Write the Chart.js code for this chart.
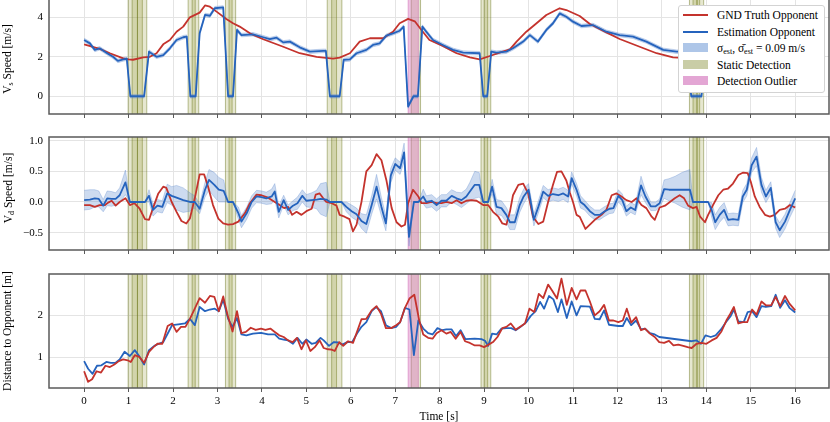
<!DOCTYPE html>
<html>
<head>
<meta charset="utf-8">
<script src="https://cdn.jsdelivr.net/npm/chart.js@4.4.0/dist/chart.umd.min.js"></script>
<style>
  body { margin: 0; width: 830px; height: 422px; overflow: hidden; position: relative; background: #fff;
         font-family: "Liberation Serif", "Times New Roman", serif; color: #000; }
  canvas { position: absolute; left: 0; }
  .ylab { position: absolute; transform: translate(-50%, -50%) rotate(-90deg); white-space: nowrap; font-size: 11.5px; }
  sub { font-size: 0.7em; vertical-align: -0.3em; line-height: 0; }
  #legend { position: absolute; left: 678px; top: 5px; width: 145px; height: 86px; background: #fff;
            border: 1px solid #d3d3d3; border-radius: 3px; }
  .row { position: absolute; left: 0; height: 16px; line-height: 16px; font-size: 11.5px; white-space: nowrap; }
  .row .h { position: absolute; left: 4px; width: 25px; }
  .row .t { position: absolute; left: 38px; top: 0; }
</style>
</head>
<body>
<canvas id="vsChart" width="830" height="124" style="top:-2px"></canvas>
<canvas id="vdChart" width="830" height="128" style="top:130px"></canvas>
<canvas id="distChart" width="830" height="160" style="top:268px"></canvas>

<div class="ylab" style="left:6.5px; top:59px">V<sub>s</sub> Speed [m/s]</div>
<div class="ylab" style="left:8px; top:188px">V<sub>d</sub> Speed [m/s]</div>
<div class="ylab" style="left:7px; top:331px">Distance to Opponent [m]</div>

<div id="legend">
  <div class="row" style="top:1px"><span class="h" style="top:7px;height:2px;background:#c4332d"></span><span class="t">GND Truth Opponent</span></div>
  <div class="row" style="top:18px"><span class="h" style="top:7px;height:2px;background:#2563bd"></span><span class="t">Estimation Opponent</span></div>
  <div class="row" style="top:34px"><span class="h" style="top:3px;height:9px;background:#aec6e8"></span><span class="t">σ<sub>est</sub>, σ̄<sub>est</sub> = 0.09 m/s</span></div>
  <div class="row" style="top:51px"><span class="h" style="top:3px;height:9px;background:#c9cda6"></span><span class="t">Static Detection</span></div>
  <div class="row" style="top:67px"><span class="h" style="top:3px;height:9px;background:#e3a6d4"></span><span class="t">Detection Outlier</span></div>
</div>

<script>
// time axis
const xTicks = [0, 1, 2, 3, 4, 5, 6, 7, 8, 9, 10, 11, 12, 13, 14, 15, 16];
const vsTicks = [0, 2, 4];
const vdTicks = [-0.5, 0, 0.5, 1.0];
const distTicks = [1, 2];

// detection windows [start, end] in s
const staticSpans = [[0.99, 1.2], [1.08, 1.31], [1.2, 1.41], [2.34, 2.5], [2.43, 2.58], [3.18, 3.33], [3.26, 3.41],
  [5.47, 5.68], [5.57, 5.8], [7.36, 7.57], [8.93, 9.08], [9.0, 9.15], [13.62, 13.79], [13.7, 13.85], [13.79, 13.94]];
const outlierSpans = [[7.29, 7.52]];

// V_s speed [t, m/s]
const vsGnd = [[0,2.63],[0.35,2.4],[0.58,2.18],[0.88,1.92],[1.0,1.87],[1.1,1.85],[1.33,1.97],[1.48,2.0],[1.63,2.18],
  [1.78,2.63],[1.93,2.85],[2.08,3.27],[2.23,3.53],[2.38,4.0],[2.6,4.24],[2.72,4.6],[2.83,4.54],[2.98,4.29],[3.2,3.92],
  [3.35,3.7],[3.5,3.53],[3.73,3.19],[4.03,2.89],[4.48,2.51],[4.85,2.18],[5.23,2.0],[5.6,1.91],[5.75,1.96],[5.98,2.18],
  [6.2,2.77],[6.43,2.94],[6.73,2.94],[6.95,3.27],[7.1,3.7],[7.29,3.92],[7.44,3.8],[7.59,3.36],[7.77,2.85],[8.07,2.55],
  [8.38,2.18],[8.68,1.97],[8.9,1.87],[9.13,2.04],[9.35,2.21],[9.58,2.38],[9.73,2.77],[9.95,3.27],[10.18,3.7],[10.4,4.12],
  [10.7,4.46],[10.85,4.37],[11.15,4.07],[11.38,3.66],[11.75,3.24],[12.05,2.9],[12.5,2.51],[12.88,2.18],[13.25,1.97],
  [13.48,1.94],[13.8,1.95],[14.1,2.1],[14.5,2.6],[15.0,3.1],[15.5,3.2],[16.0,2.9]];
const vsEst = [[0,2.85],[0.13,2.68],[0.24,2.35],[0.35,2.43],[0.5,2.21],[0.65,2.0],[0.76,1.79],[0.88,1.87],[0.96,1.9],
  [1.04,0],[1.35,0],[1.46,2.26],[1.63,2.0],[1.78,2.09],[1.93,2.43],[2.08,2.85],[2.23,2.99],[2.31,3.02],[2.39,0],[2.51,0],
  [2.6,3.19],[2.72,4.12],[2.83,4.08],[2.94,4.46],[3.13,4.5],[3.24,0],[3.35,0],[3.44,3.36],[3.54,3.1],[3.8,3.14],[4.03,2.99],
  [4.18,2.89],[4.33,2.97],[4.48,2.73],[4.63,2.77],[4.85,2.48],[5.08,2.26],[5.38,2.3],[5.44,2.3],[5.53,0],[5.75,0],[5.84,1.84],
  [5.98,1.87],[6.13,2.18],[6.35,2.35],[6.5,2.6],[6.65,2.68],[6.8,3.07],[6.95,3.19],[7.1,3.32],[7.19,3.53],[7.29,-0.52],
  [7.41,0],[7.51,0],[7.61,3.53],[7.7,3.27],[7.85,2.85],[8.07,2.6],[8.3,2.35],[8.53,2.21],[8.9,2.18],[8.98,0],[9.07,0],
  [9.16,2.26],[9.28,2.21],[9.5,2.26],[9.65,2.43],[9.88,2.77],[10.03,3.1],[10.21,2.77],[10.4,3.36],[10.55,3.7],[10.7,4.2],
  [10.85,4.03],[11.0,3.78],[11.19,3.56],[11.45,3.61],[11.75,3.27],[12.05,3.1],[12.35,3.02],[12.65,2.77],[13.03,2.35],
  [13.33,2.26],[13.57,2.26],[13.66,0],[13.89,0],[13.98,2.0],[14.3,2.3],[14.7,2.8],[15.2,3.2],[15.6,3.1],[16.0,2.8]];
const vsSigma = 0.09;

// V_d speed [t, m/s]; estimate rows are [t, m/s, sigma]
const vdGnd = [[0,-0.05],[0.13,-0.05],[0.24,-0.08],[0.35,-0.05],[0.47,-0.05],[0.54,-0.01],[0.62,0.02],[0.71,-0.06],
  [0.8,0.0],[0.93,0.06],[1.03,-0.05],[1.13,-0.02],[1.25,-0.11],[1.37,-0.28],[1.46,-0.29],[1.55,-0.1],[1.67,0.14],
  [1.78,0.25],[1.85,0.23],[1.97,0.0],[2.08,-0.16],[2.19,-0.31],[2.3,-0.35],[2.38,-0.27],[2.49,0.06],[2.6,0.45],[2.7,0.45],
  [2.79,0.25],[2.9,-0.05],[3.02,-0.27],[3.13,-0.35],[3.24,-0.37],[3.35,-0.36],[3.47,-0.32],[3.62,-0.18],[3.73,-0.02],
  [3.88,0.12],[3.99,0.11],[4.14,0.07],[4.29,0.0],[4.4,-0.05],[4.5,-0.1],[4.59,-0.08],[4.68,-0.21],[4.78,-0.16],[4.89,-0.21],
  [5.0,-0.15],[5.12,-0.11],[5.21,0.12],[5.3,0.14],[5.38,0.06],[5.45,0.0],[5.57,-0.02],[5.68,-0.06],[5.75,-0.21],[5.86,-0.24],
  [5.97,-0.28],[6.05,-0.48],[6.13,-0.37],[6.24,0.0],[6.35,0.5],[6.47,0.6],[6.58,0.78],[6.69,0.68],[6.8,0.36],[6.92,-0.1],
  [7.03,-0.33],[7.14,-0.4],[7.22,-0.37],[7.29,-0.02],[7.4,0.2],[7.52,0.09],[7.59,-0.02],[7.7,-0.02],[7.82,0.0],[7.93,-0.02],
  [8.04,-0.02],[8.15,0.0],[8.27,-0.02],[8.38,0.03],[8.49,-0.02],[8.6,0.02],[8.71,0.03],[8.83,0.02],[8.98,-0.05],[9.09,-0.05],
  [9.2,-0.16],[9.32,-0.24],[9.41,-0.35],[9.5,-0.37],[9.58,-0.16],[9.65,0.11],[9.77,0.28],[9.88,0.3],[9.99,0.14],[10.1,-0.24],
  [10.22,-0.36],[10.33,-0.32],[10.44,0.0],[10.55,0.28],[10.64,0.49],[10.74,0.5],[10.85,0.35],[10.93,0.15],[11.0,0.0],
  [11.08,-0.21],[11.15,-0.24],[11.28,-0.44],[11.38,-0.37],[11.49,-0.29],[11.64,-0.21],[11.75,-0.13],[11.87,0.11],[11.98,0.14],
  [12.09,0.09],[12.2,0.03],[12.32,0.0],[12.43,0.06],[12.54,-0.05],[12.65,-0.1],[12.77,-0.24],[12.84,-0.29],[12.95,-0.09],
  [13.07,-0.06],[13.18,0.0],[13.29,0.06],[13.4,0.11],[13.5,0.06],[13.59,-0.06],[13.7,-0.1],[13.78,-0.08],[13.86,-0.24],
  [13.97,-0.33],[14.04,-0.21],[14.15,-0.05],[14.27,0.11],[14.38,0.2],[14.49,0.22],[14.6,0.3],[14.72,0.44],[14.83,0.48],
  [14.93,0.47],[15.0,0.33],[15.09,0.09],[15.2,-0.08],[15.32,-0.21],[15.43,-0.24],[15.54,-0.21],[15.65,-0.13],[15.77,-0.11],
  [15.88,-0.05],[16.0,-0.09]];
const vdEst = [[0,0.03,0.16],[0.13,0.04,0.16],[0.24,0.06,0.14],[0.33,0.05,0.13],[0.43,-0.06,0.1],[0.52,0.06,0.12],
  [0.62,0.05,0.12],[0.71,0.05,0.1],[0.8,0.11,0.12],[0.93,0.32,0.2],[1.03,0,0],[1.37,0,0],[1.46,0.1,0.1],[1.55,-0.13,0.1],
  [1.65,-0.06,0.1],[1.76,-0.08,0.1],[1.87,0.14,0.15],[1.97,0.1,0.15],[2.08,0.07,0.2],[2.23,0.03,0.2],[2.38,0.0,0.15],
  [2.49,0.0,0.1],[2.6,-0.11,0.08],[2.72,0.2,0.12],[2.81,0.36,0.17],[2.93,0.28,0.2],[3.03,0.2,0.2],[3.14,0.18,0.18],[3.24,0,0],
  [3.35,0,0],[3.47,-0.18,0.1],[3.54,-0.32,0.1],[3.66,-0.18,0.1],[3.77,0.0,0.1],[3.88,0.09,0.1],[3.99,0.08,0.1],[4.1,0.06,0.1],
  [4.22,0.09,0.12],[4.29,0.17,0.13],[4.38,-0.16,0.1],[4.49,0.03,0.08],[4.59,-0.13,0.08],[4.7,-0.06,0.08],[4.8,-0.02,0.1],
  [4.91,0.1,0.1],[5.0,0.02,0.1],[5.12,0.03,0.12],[5.23,0.04,0.15],[5.32,0.05,0.25],[5.45,0.04,0.28],[5.53,0,0],[5.79,0,0],
  [5.9,-0.08,0.08],[6.02,-0.15,0.1],[6.13,-0.2,0.1],[6.24,-0.31,0.12],[6.35,-0.36,0.15],[6.47,-0.05,0.15],[6.58,0.25,0.2],
  [6.69,-0.08,0.15],[6.79,-0.35,0.12],[6.9,0.43,0.12],[7.0,0.62,0.1],[7.11,0.55,0.1],[7.2,0.81,0.15],[7.31,-0.57,0.15],
  [7.42,0,0],[7.52,0,0],[7.63,0.09,0.12],[7.7,0.0,0.1],[7.82,0.02,0.1],[7.93,-0.05,0.1],[8.04,0.02,0.1],[8.15,0.02,0.1],
  [8.27,0.1,0.1],[8.38,0.06,0.1],[8.49,0.03,0.12],[8.6,0.09,0.12],[8.68,0.17,0.15],[8.79,0.28,0.22],[8.89,0.28,0.2],
  [8.98,0,0],[9.09,0,0],[9.18,0.25,0.12],[9.28,-0.08,0.12],[9.39,-0.1,0.12],[9.5,-0.21,0.12],[9.58,-0.33,0.12],
  [9.69,-0.33,0.12],[9.8,-0.05,0.12],[9.89,0.09,0.12],[10.0,0.2,0.1],[10.12,-0.29,0.1],[10.22,-0.08,0.1],[10.33,0.17,0.1],
  [10.44,0.1,0.1],[10.55,0.13,0.1],[10.67,0.11,0.1],[10.78,0.14,0.1],[10.89,0.09,0.1],[10.97,0.39,0.1],[11.08,0.2,0.1],
  [11.17,0.0,0.1],[11.26,-0.05,0.08],[11.38,-0.15,0.08],[11.49,-0.21,0.08],[11.6,-0.21,0.08],[11.7,-0.16,0.08],
  [11.82,-0.11,0.08],[11.91,-0.1,0.08],[12.02,0.1,0.1],[12.11,0.03,0.1],[12.2,-0.15,0.08],[12.3,-0.09,0.08],[12.4,-0.13,0.08],
  [12.53,0.27,0.15],[12.63,0.09,0.1],[12.75,-0.07,0.07],[12.86,-0.07,0.07],[12.95,-0.02,0.07],[13.05,0.21,0.15],
  [13.16,0.2,0.18],[13.3,0.2,0.22],[13.45,0.2,0.28],[13.63,0.2,0.33],[13.7,0,0],[14.04,0,0],[14.12,-0.13,0.12],
  [14.2,-0.33,0.12],[14.3,-0.21,0.12],[14.4,-0.13,0.12],[14.49,-0.29,0.1],[14.6,-0.28,0.1],[14.72,-0.29,0.1],[14.82,0.09,0.1],
  [14.91,0.2,0.1],[15.02,0.6,0.12],[15.13,0.74,0.15],[15.24,0.28,0.12],[15.34,0.09,0.1],[15.45,0.23,0.1],[15.56,-0.33,0.1],
  [15.65,-0.46,0.12],[15.77,-0.32,0.12],[15.88,-0.13,0.12],[16.0,0.06,0.13]];

// distance to opponent [t, m]
const distGnd = [[0,0.67],[0.09,0.42],[0.18,0.48],[0.28,0.67],[0.38,0.64],[0.48,0.8],[0.58,0.77],[0.68,0.83],[0.78,0.91],
  [0.88,0.95],[0.98,0.93],[1.05,0.89],[1.14,1.05],[1.24,1.01],[1.35,0.87],[1.46,1.13],[1.56,1.24],[1.65,1.32],[1.76,1.32],
  [1.88,1.74],[1.98,1.8],[2.08,1.6],[2.18,1.72],[2.28,1.72],[2.38,1.91],[2.49,2.15],[2.6,2.4],[2.72,2.29],[2.83,2.45],
  [2.93,2.43],[3.03,2.09],[3.13,2.44],[3.23,1.99],[3.34,1.61],[3.44,2.09],[3.54,1.57],[3.64,1.6],[3.75,1.7],[3.86,1.65],
  [3.98,1.68],[4.08,1.65],[4.19,1.68],[4.29,1.6],[4.39,1.52],[4.49,1.48],[4.59,1.4],[4.69,1.36],[4.79,1.46],[4.89,1.19],
  [4.99,1.4],[5.09,1.15],[5.19,1.24],[5.3,1.4],[5.39,1.22],[5.49,1.19],[5.57,1.18],[5.64,1.15],[5.74,1.36],[5.83,1.27],
  [5.94,1.38],[6.05,1.34],[6.14,1.6],[6.24,1.9],[6.35,1.91],[6.47,2.11],[6.58,2.21],[6.68,2.03],[6.79,1.69],[6.91,1.69],
  [7.02,1.76],[7.11,1.83],[7.22,2.17],[7.32,2.39],[7.43,2.48],[7.54,1.87],[7.63,1.54],[7.74,1.46],[7.84,1.44],[7.93,1.57],
  [8.04,1.64],[8.15,1.56],[8.25,1.6],[8.36,1.44],[8.47,1.6],[8.57,1.38],[8.68,1.34],[8.79,1.28],[8.9,1.28],[9.0,1.24],
  [9.1,1.3],[9.2,1.36],[9.3,1.48],[9.41,1.69],[9.5,1.72],[9.6,1.8],[9.71,1.65],[9.82,1.73],[9.92,1.8],[10.02,2.15],
  [10.13,2.07],[10.23,2.5],[10.33,2.4],[10.44,2.72],[10.54,2.56],[10.64,2.39],[10.74,2.86],[10.86,2.24],[10.97,2.64],
  [11.08,2.37],[11.17,2.58],[11.28,2.58],[11.38,2.32],[11.49,1.99],[11.6,2.09],[11.7,2.24],[11.81,1.87],[11.91,1.87],
  [12.02,1.83],[12.12,1.87],[12.21,2.15],[12.31,1.82],[12.42,1.95],[12.53,1.64],[12.62,1.68],[12.73,1.56],[12.84,1.48],
  [12.94,1.36],[13.05,1.34],[13.16,1.39],[13.26,1.28],[13.37,1.3],[13.48,1.27],[13.58,1.24],[13.67,1.22],[13.78,1.32],
  [13.89,1.34],[14.0,1.32],[14.12,1.4],[14.23,1.46],[14.34,1.61],[14.45,1.87],[14.54,2.03],[14.62,2.19],[14.72,1.8],
  [14.82,1.83],[14.92,1.83],[15.03,2.13],[15.13,2.01],[15.24,2.32],[15.34,2.23],[15.46,2.23],[15.56,2.43],[15.66,2.21],
  [15.77,2.45],[15.87,2.27],[16.0,2.11]];
const distEst = [[0,0.91],[0.09,0.73],[0.19,0.61],[0.29,0.8],[0.39,0.81],[0.5,0.89],[0.6,0.87],[0.71,0.87],[0.8,0.95],
  [0.91,1.13],[1.03,1.03],[1.14,1.17],[1.25,1.01],[1.35,0.83],[1.46,1.17],[1.58,1.27],[1.68,1.32],[1.78,1.36],[1.89,1.58],
  [1.98,1.76],[2.12,1.78],[2.27,1.8],[2.38,1.91],[2.49,1.76],[2.6,2.19],[2.72,2.09],[2.83,2.13],[2.94,2.15],[3.03,2.09],
  [3.13,2.36],[3.24,1.91],[3.34,1.72],[3.44,1.93],[3.54,1.54],[3.65,1.52],[3.8,1.56],[3.98,1.58],[4.14,1.54],[4.29,1.54],
  [4.39,1.44],[4.49,1.42],[4.59,1.4],[4.7,1.32],[4.8,1.46],[4.91,1.32],[5.0,1.42],[5.12,1.32],[5.21,1.34],[5.32,1.46],
  [5.39,1.4],[5.51,1.27],[5.62,1.36],[5.72,1.35],[5.81,1.3],[5.92,1.36],[6.03,1.36],[6.14,1.56],[6.24,1.72],[6.35,1.83],
  [6.47,2.09],[6.57,2.19],[6.68,2.09],[6.79,1.76],[6.91,1.69],[7.02,1.72],[7.11,1.83],[7.22,2.17],[7.32,2.13],[7.42,1.05],
  [7.52,1.87],[7.63,1.68],[7.74,1.57],[7.84,1.54],[7.95,1.69],[8.06,1.64],[8.15,1.66],[8.27,1.66],[8.37,1.5],[8.47,1.64],
  [8.58,1.43],[8.79,1.44],[8.94,1.43],[9.02,1.39],[9.09,1.27],[9.18,1.56],[9.28,1.54],[9.39,1.68],[9.5,1.69],[9.61,1.69],
  [9.71,1.64],[9.82,1.72],[9.94,1.82],[10.05,1.98],[10.16,2.09],[10.26,2.31],[10.35,2.15],[10.46,2.45],[10.56,2.37],
  [10.66,2.07],[10.74,2.37],[10.86,1.93],[10.97,2.32],[11.08,1.99],[11.17,2.21],[11.38,2.2],[11.49,1.91],[11.6,1.9],
  [11.7,2.11],[11.81,1.77],[12.02,1.74],[12.12,1.74],[12.21,1.93],[12.31,1.76],[12.42,1.87],[12.53,1.66],[12.62,1.68],
  [12.73,1.57],[12.84,1.54],[12.94,1.48],[13.67,1.38],[13.78,1.4],[13.88,1.32],[13.98,1.52],[14.1,1.48],[14.21,1.52],
  [14.33,1.66],[14.44,1.83],[14.55,1.98],[14.62,2.13],[14.72,1.85],[14.84,1.83],[14.93,2.07],[15.03,2.09],[15.13,1.95],
  [15.24,2.21],[15.34,2.19],[15.46,2.21],[15.56,2.48],[15.66,2.17],[15.77,2.35],[15.87,2.17],[16.0,2.06]];

const RED = '#c4332d';
const BLUE = '#2563bd';
const BAND = 'rgba(90,135,205,0.3)';
const BAND_EDGE = 'rgba(90,135,205,0.45)';
const OLIVE = 'rgba(128,135,20,0.2)';
const OLIVE_EDGE = 'rgba(105,115,25,0.5)';
const PINK = 'rgba(215,110,185,0.42)';
const PINK_EDGE = 'rgba(200,95,170,0.5)';
const FRAME = '#5a5a5a';
const GRID = '#e4e4e4';
const FONT = {family: '"Liberation Serif", "Times New Roman", serif', size: 11};

const xy = rows => rows.map(r => ({x: r[0], y: r[1]}));

const spanPlugin = {
    id: 'spans',
    beforeDatasetsDraw(chart) {
        const {ctx, chartArea: a, scales: {x}} = chart;
        ctx.save();
        ctx.beginPath();
        ctx.rect(a.left, a.top, a.width, a.height);
        ctx.clip();
        const draw = (spans, fill, edge) => spans.forEach(([s, e]) => {
            const x0 = x.getPixelForValue(s), x1 = x.getPixelForValue(e);
            ctx.fillStyle = fill;
            ctx.fillRect(x0, a.top, x1 - x0, a.height);
            ctx.strokeStyle = edge;
            ctx.lineWidth = 0.9;
            ctx.beginPath();
            ctx.moveTo(x0, a.top); ctx.lineTo(x0, a.bottom);
            ctx.moveTo(x1, a.top); ctx.lineTo(x1, a.bottom);
            ctx.stroke();
        });
        draw(staticSpans, OLIVE, OLIVE_EDGE);
        draw(outlierSpans, PINK, PINK_EDGE);
        ctx.restore();
    }
};

const framePlugin = {
    id: 'frame',
    afterDraw(chart) {
        const {ctx, chartArea: a} = chart;
        ctx.save();
        ctx.strokeStyle = FRAME;
        ctx.lineWidth = 1.5;
        ctx.strokeRect(a.left, a.top, a.width, a.height);
        ctx.restore();
    }
};

function fixTicks(values) {
    return s => { s.ticks = values.map(v => ({value: v})); };
}

function createPanel(id, cfg) {
    const ctx = document.getElementById(id).getContext('2d');
    new Chart(ctx, {
        type: 'line',
        data: {datasets: cfg.datasets},
        options: {
            responsive: false,
            animation: false,
            events: [],
            layout: {padding: {top: cfg.padTop, right: 1, left: 0, bottom: 0}},
            elements: {point: {radius: 0}, line: {tension: 0, borderJoinStyle: 'round', borderCapStyle: 'butt'}},
            plugins: {legend: {display: false}, tooltip: {enabled: false}},
            scales: {
                x: {
                    type: 'linear', min: -0.79, max: 16.76,
                    afterBuildTicks: fixTicks(xTicks),
                    afterFit: s => { s.height = cfg.xHeight; s.paddingLeft = 0; s.paddingRight = 0; },
                    grid: {color: GRID, lineWidth: 1, tickColor: FRAME, tickLength: 4, tickWidth: 1},
                    border: {display: false},
                    ticks: {display: cfg.xLabels, font: FONT, color: '#000', padding: 3, maxRotation: 0},
                    title: {display: cfg.xLabels, text: 'Time [s]', font: {family: FONT.family, size: 11.5},
                            color: '#000', padding: {top: 0, bottom: 4}}
                },
                y: {
                    type: 'linear', min: cfg.yMin, max: cfg.yMax,
                    afterBuildTicks: fixTicks(cfg.yTicks),
                    afterFit: s => { s.width = 49; s.paddingTop = 0; s.paddingBottom = 0; },
                    grid: {color: GRID, lineWidth: 1, drawTicks: false},
                    border: {display: false},
                    ticks: {font: FONT, color: '#000', padding: 6, callback: cfg.fmt}
                }
            }
        },
        plugins: [spanPlugin, framePlugin]
    });
}

const line = (rows, color) => ({data: xy(rows), borderColor: color, borderWidth: 1.8, fill: false});
const band = (rows, sig, sign, fill) => ({
    data: rows.map(r => ({x: r[0], y: r[1] + sign * (sig === null ? r[2] : sig)})),
    borderColor: BAND_EDGE, borderWidth: 0.7, backgroundColor: BAND, fill: fill
});
const minus = v => String(v).replace('-', '\u2212');

createPanel('vsChart', {
    padTop: 0, xHeight: 8, xLabels: false, yMin: -0.9, yMax: 4.98, yTicks: vsTicks, fmt: v => minus(v),
    datasets: [line(vsEst, BLUE), line(vsGnd, RED), band(vsEst, vsSigma, 1, '+1'), band(vsEst, vsSigma, -1, false)]
});
createPanel('vdChart', {
    padTop: 7, xHeight: 8, xLabels: false, yMin: -0.783, yMax: 1.06, yTicks: vdTicks, fmt: v => minus(v.toFixed(1)),
    datasets: [line(vdEst, BLUE), line(vdGnd, RED), band(vdEst, null, 1, '+1'), band(vdEst, null, -1, false)]
});
createPanel('distChart', {
    padTop: 6, xHeight: 40, xLabels: true, yMin: 0.274, yMax: 2.97, yTicks: distTicks, fmt: v => minus(v),
    datasets: [line(distGnd, RED), line(distEst, BLUE)]
});
</script>
</body>
</html>
